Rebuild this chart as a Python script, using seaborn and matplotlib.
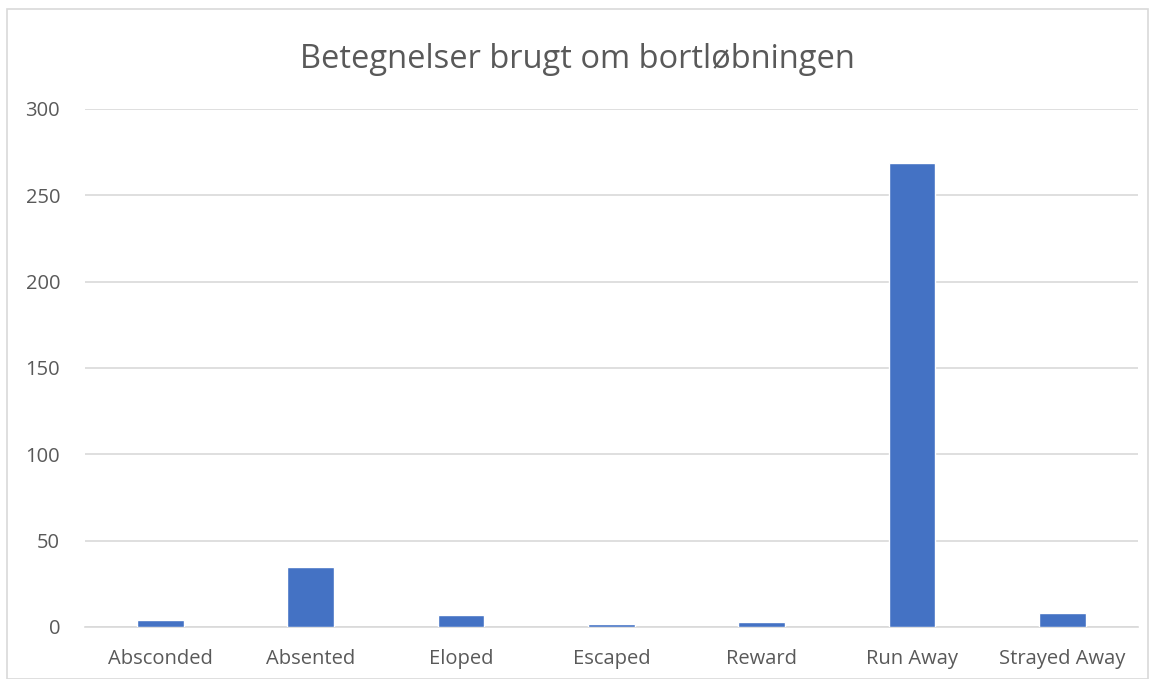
import pandas as pd
import seaborn as sns
import matplotlib.pyplot as plt
from matplotlib.patches import Rectangle

# data
categories = ["Absconded", "Absented", "Eloped", "Escaped", "Reward", "Run Away", "Strayed Away"]
counts = [4, 35, 7, 2, 3, 269, 8]

df = pd.DataFrame({"term": categories, "count": counts})

sns.set_style("white")
plt.rcParams["font.family"] = ["Open Sans", "DejaVu Sans"]

fig = plt.figure(figsize=(11.55, 6.79), dpi=100)
ax = fig.add_axes([0.0736, 0.0766, 0.9114, 0.7629])

sns.barplot(data=df, x="term", y="count", color="#4472C4", width=0.31,
            saturation=1, ax=ax, zorder=3)

ax.set_ylim(0, 300)
ax.set_yticks(range(0, 301, 50))
ax.yaxis.grid(True, color="#D9D9D9", linewidth=1.2, zorder=0)
for s in ["top", "right", "left"]:
    ax.spines[s].set_visible(False)
ax.spines["bottom"].set_color("#D9D9D9")
ax.spines["bottom"].set_linewidth(1.2)
ax.tick_params(axis="both", length=0, labelsize=14.5, labelcolor="#595959")
ax.tick_params(axis="x", pad=16)
ax.tick_params(axis="y", pad=18)
ax.set_xlabel("")
ax.set_ylabel("")

fig.suptitle("Betegnelser brugt om bortløbningen", y=0.937, fontsize=23.5, color="#595959")

# chart frame
fig.patches.append(Rectangle((7 / 1155, 0.0), 1141 / 1155, 1 - 9 / 679,
                             transform=fig.transFigure, fill=False,
                             edgecolor="#D9D9D9", linewidth=1.2))

fig.savefig("out.png", dpi=100)
